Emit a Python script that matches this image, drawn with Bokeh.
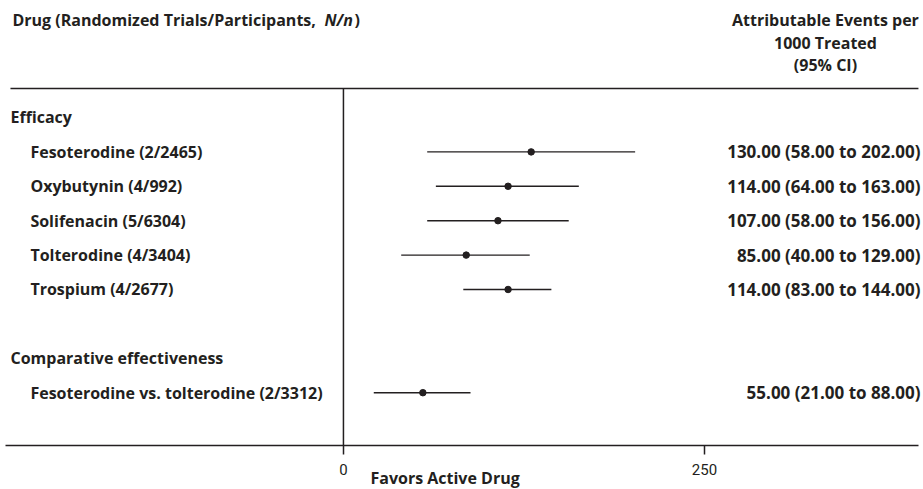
from bokeh.plotting import figure
from bokeh.models import Range1d, LinearAxis, FixedTicker, ColumnDataSource
from bokeh.core.properties import value
from bokeh.embed import file_html
from bokeh.resources import INLINE

# ---- data ----
groups = ["Efficacy", "Comparative effectiveness"]
drugs = ["Fesoterodine (2/2465)", "Oxybutynin (4/992)", "Solifenacin (5/6304)",
         "Tolterodine (4/3404)", "Trospium (4/2677)",
         "Fesoterodine vs. tolterodine (2/3312)"]
drug_group = [0, 0, 0, 0, 0, 1]
estimates = [130, 114, 107, 85, 114, 55]
lower = [58, 64, 58, 40, 83, 21]
upper = [202, 163, 156, 129, 144, 88]
ticks = [0, 250]
header_left = "Drug (Randomized Trials/Participants, "
header_left_italic = "N/n"
header_right = ["Attributable Events per", "1000 Treated", "(95% CI)"]
axis_caption = "Favors Active Drug"

# ---- layout rows (group header, then its items, blank row between groups) ----
group_rows = []
item_rows = []
r = 0
for gi, g in enumerate(groups):
    if gi > 0:
        r += 1
    group_rows.append(r)
    r += 1
    for di, dg in enumerate(drug_group):
        if dg == gi:
            item_rows.append(r)
            r += 1
ci_text = [f"{e:.2f} ({lo:.2f} to {hi:.2f})" for e, lo, hi in zip(estimates, lower, upper)]

INK = "#231f20"
FONT = "Open Sans"
FS = "16px"

AXIS_Y = 9.535
TOP_Y = -0.843

W, H = 923, 489
p = figure(width=W, height=H, output_backend="svg", toolbar_location=None,
           x_axis_type=None, y_axis_type=None,
           x_range=Range1d(-237.5, 401.7), y_range=Range1d(10.814, -3.401),
           min_border=0, outline_line_color=None,
           background_fill_color="white", border_fill_color="white")
p.xgrid.visible = False
p.ygrid.visible = False

axis = LinearAxis(ticker=FixedTicker(ticks=ticks), fixed_location=AXIS_Y,
                  bounds=(-234.1, 398.2),
                  axis_line_color=INK, axis_line_width=1.5,
                  major_tick_in=0, major_tick_out=9,
                  major_tick_line_color=INK, major_tick_line_width=1.5,
                  minor_tick_line_color=None,
                  major_label_text_font="Roboto",
                  major_label_text_font_size="15px",
                  major_label_text_color=INK,
                  major_label_standoff=9)
p.add_layout(axis, "below")

# top rule and zero line
p.segment(x0=[-230.6], y0=[TOP_Y], x1=[398.2], y1=[TOP_Y], line_color=INK, line_width=1.5)
p.segment(x0=[0], y0=[TOP_Y], x1=[0], y1=[AXIS_Y], line_color=INK, line_width=1.5)

# CIs and estimates
src = ColumnDataSource(dict(y=item_rows, est=estimates, lo=lower, hi=upper,
                            name=drugs, ci=ci_text))
p.segment(x0="lo", y0="y", x1="hi", y1="y", source=src, line_color=INK, line_width=1.4)
p.scatter(x="est", y="y", source=src, size=6.5, fill_color=INK, line_color=INK)

common = dict(text_font=value(FONT), text_font_style="bold", text_font_size=FS,
              text_color=INK, text_baseline="middle")

p.text(x=-216.8, y="y", text="name", source=src, text_align="left", **common)
p.text(x=399.6, y="y", text="ci", source=src, text_align="right",
       text_font=value(FONT), text_font_style="bold", text_font_size="17px",
       text_color=INK, text_baseline="middle")
p.text(x=[-230.6] * len(groups), y=group_rows, text=groups, text_align="left", **common)

# headers
p.text(x=[-229.2], y=[-2.82], text=[header_left], text_align="left", **common)
p.text(x=[-13.2], y=[-2.82], text=[header_left_italic], text_align="left",
       text_font=value(FONT), text_font_style="bold italic", text_font_size=FS,
       text_color=INK, text_baseline="middle")
p.text(x=[7.6], y=[-2.82], text=[")"], text_align="left", **common)
p.text(x=[333.8] * 3, y=[-2.82, -2.18, -1.54], text=header_right, text_align="center", **common)

# axis caption
p.text(x=[18.7], y=[10.494], text=[axis_caption], text_align="left", **common)

open("out.html", "w").write(file_html(p, INLINE))
